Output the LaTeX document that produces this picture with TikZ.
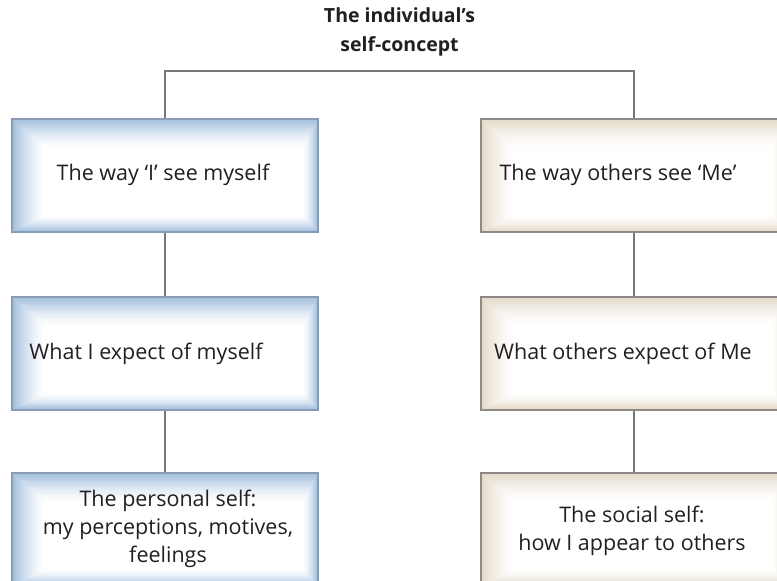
\documentclass[tikz,border=0pt]{standalone}
\usepackage{fontspec}
\setmainfont{Open Sans}
\usetikzlibrary{calc}
\definecolor{inktext}{HTML}{231F20}
\definecolor{linkgray}{HTML}{76777A}
\definecolor{blueedge}{HTML}{A0BEDD}
\definecolor{blueborder}{HTML}{8A9CB3}
\definecolor{sandedge}{HTML}{E3D9C8}
\definecolor{sandborder}{HTML}{8E8A86}
\tikzset{
  % white panel whose edges glow in the given colour
  glow/.style={path picture={
    \foreach \i in {0,...,26}{
      \pgfmathtruncatemacro\pct{100*(1-\i/26)^1.5}
      \fill[#1!\pct!white]
        ($(path picture bounding box.north west)+(1.3*\i,1.15*\i)$) rectangle
        ($(path picture bounding box.south east)+(-0.6*\i,-0.65*\i)$);
    }}},
  panel/.style={rectangle, minimum width=306pt, minimum height=113pt,
    line width=1.8pt, inner sep=0pt},
  bluepanel/.style={panel, draw=blueborder, glow=blueedge},
  sandpanel/.style={panel, draw=sandborder, glow=sandedge},
  caption/.style={text=inktext, font=\fontsize{21.5}{28}\selectfont, align=center},
  heading/.style={text=inktext, font=\bfseries\fontsize{19.5}{29}\selectfont, align=center},
  link/.style={draw=linkgray, line width=2.6pt}
}
\begin{document}
\begin{tikzpicture}[x=1pt,y=-1pt]
  \useasboundingbox (0,0) rectangle (777,581);
  \clip (0,0) rectangle (777,581);

  % heading
  \node[heading] (title) at (399.5,32) {The individual’s\\self-concept};

  % left column: the personal self
  \node[bluepanel] (l1) at (165,175.5) {};
  \node[bluepanel] (l2) at (165,353.5) {};
  \node[bluepanel] (l3) at (165,529.5) {};
  % right column: the social self
  \node[sandpanel] (r1) at (634,175.5) {};
  \node[sandpanel] (r2) at (634,353.5) {};
  \node[sandpanel] (r3) at (634,529.5) {};

  % connectors
  \draw[link] (l1.north) -- ++(0,-47) -| (r1.north);
  \draw[link] (l1.south) -- (l2.north);
  \draw[link] (l2.south) -- (l3.north);
  \draw[link] (r1.south) -- (r2.north);
  \draw[link] (r2.south) -- (r3.north);

  % panel texts
  \node[caption] (tl1) at (163,175) {The way ‘I’ see myself};
  \node[caption] (tl2) at (146,354) {What I expect of myself};
  \node[caption] (tl3) at (168,529) {The personal self:\\my perceptions, motives,\\feelings};
  \node[caption] (tr1) at (618,175) {The way others see ‘Me’};
  \node[caption] (tr2) at (623,354) {What others expect of Me};
  \node[caption] (tr3) at (632,531) {The social self:\\how I appear to others};
\end{tikzpicture}
\end{document}
